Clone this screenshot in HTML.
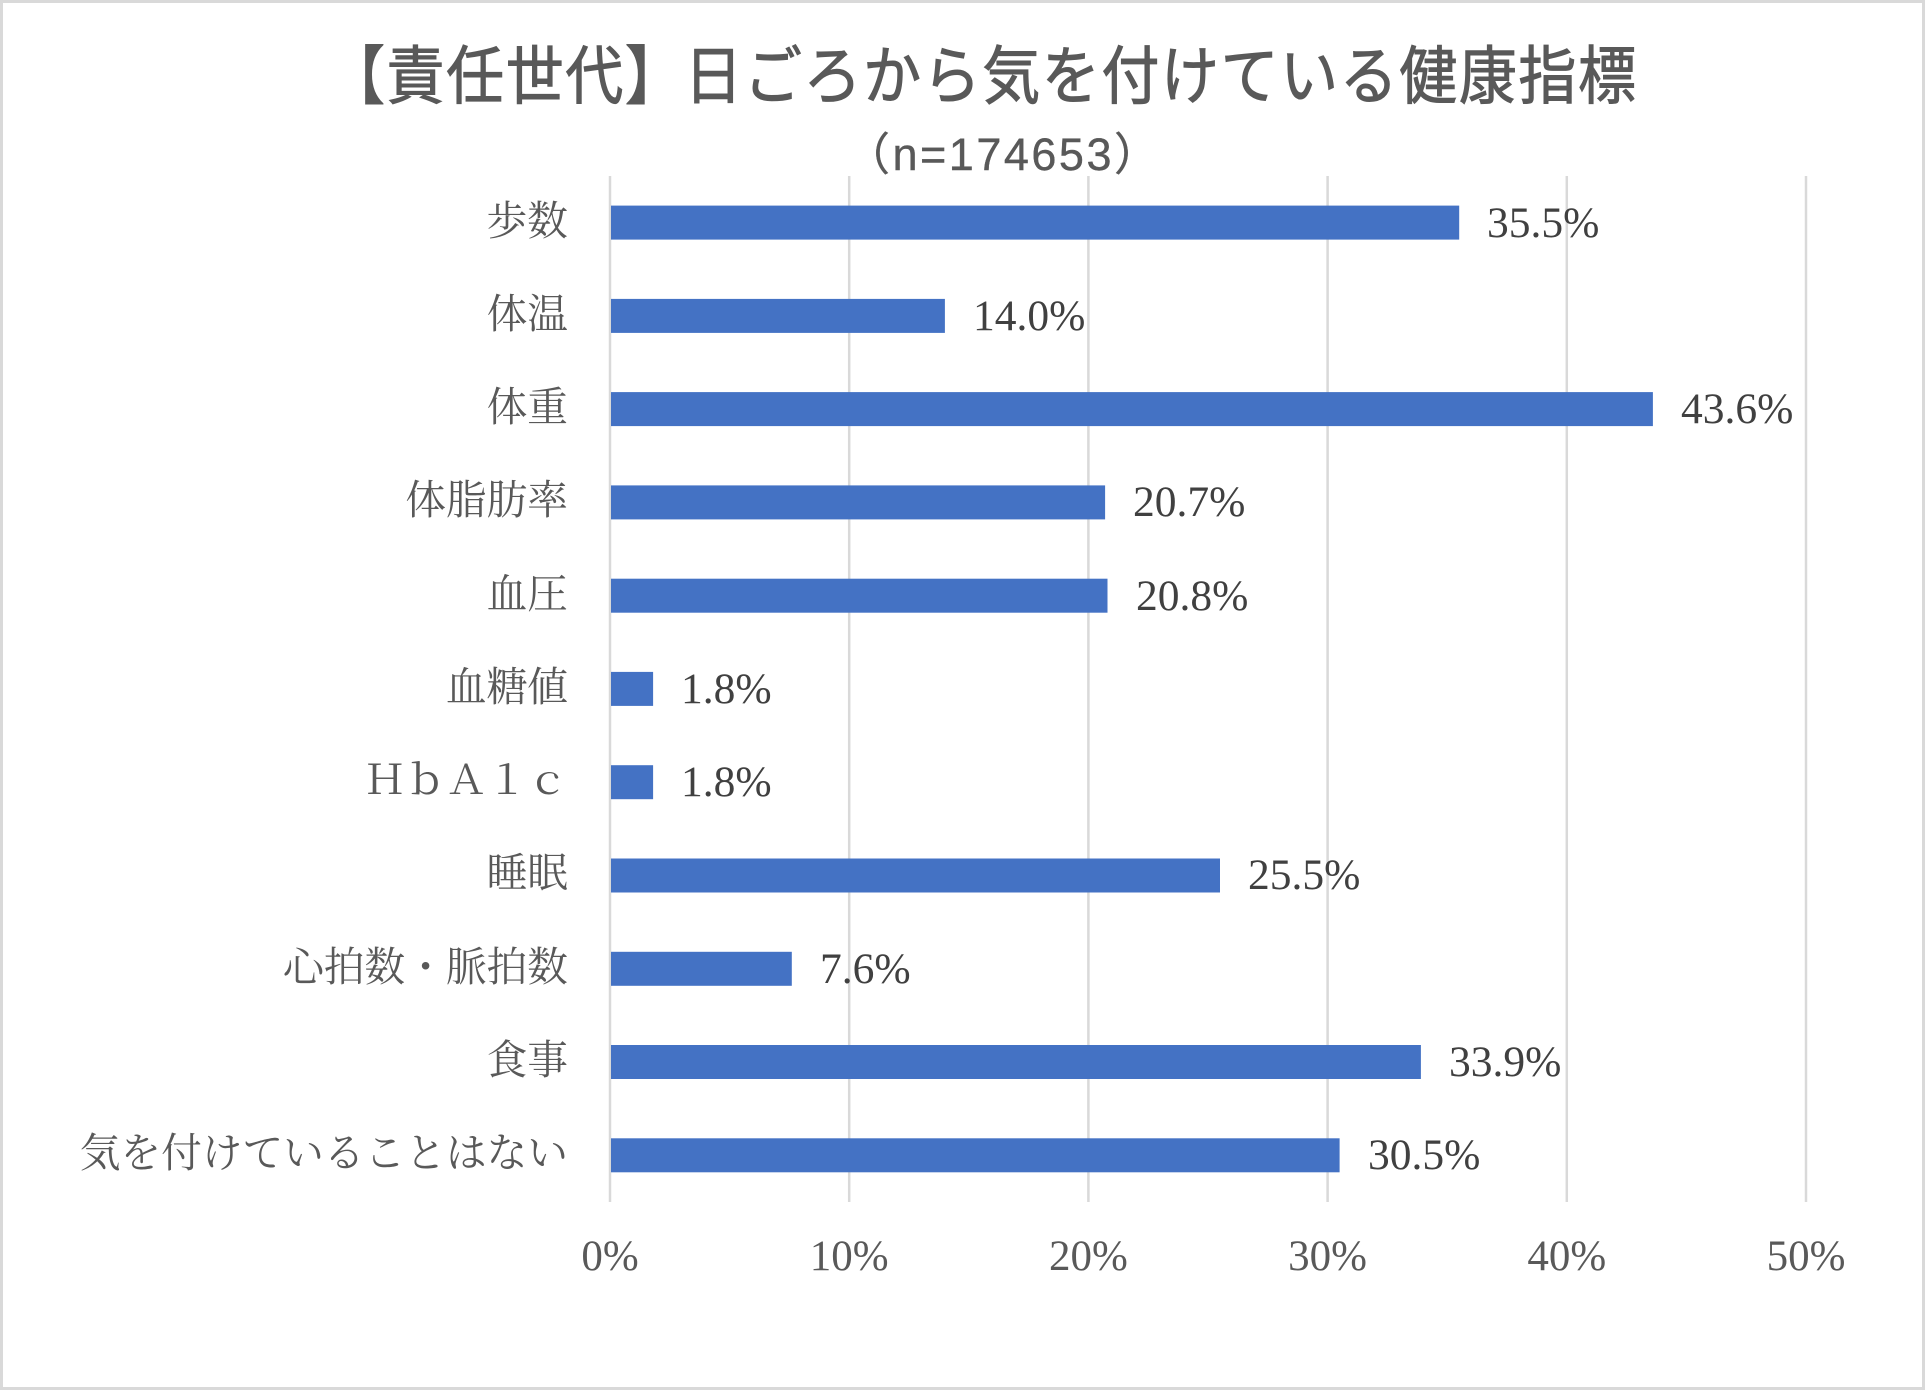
<!DOCTYPE html>
<html lang="ja">
<head>
<meta charset="utf-8">
<style>
  html, body { margin: 0; padding: 0; background: #ffffff; }
  body { width: 1925px; height: 1390px; overflow: hidden; }
  svg { display: block; }
  .cat { font-family: "Liberation Serif", "Noto Serif CJK SC", serif; font-size: 40.7px; fill: #595959; }
  .val { font-family: "Liberation Serif", "Noto Serif CJK SC", serif; font-size: 43.5px; fill: #404040; }
  .tick { font-family: "Liberation Serif", "Noto Serif CJK SC", serif; font-size: 43px; fill: #595959; }
  .title { font-family: "Liberation Sans", "Noto Sans CJK JP", sans-serif; font-size: 58px; fill: #595959; stroke: #595959; stroke-width: 0.9px; }
  .sub { font-family: "Liberation Sans", "Noto Sans CJK JP", sans-serif; font-size: 45px; fill: #595959; stroke: #595959; stroke-width: 0.4px; }
</style>
</head>
<body>
<svg width="1925" height="1390" viewBox="0 0 1925 1390" xmlns="http://www.w3.org/2000/svg">
  <rect x="1.5" y="1.5" width="1922" height="1387" fill="#ffffff" stroke="#d9d9d9" stroke-width="3"/>

  <!-- Title -->
  <g transform="translate(327,98.5) scale(1,1.1)">
    <text class="title" x="0" y="0" textLength="1309" lengthAdjust="spacing">【責任世代】日ごろから気を付けている健康指標</text>
  </g>
  <text class="sub" x="845" y="170" letter-spacing="2.5">（n=174653）</text>

  <!-- Gridlines -->
  <g stroke="#d9d9d9" stroke-width="2.5">
    <line x1="610" y1="176" x2="610" y2="1202"/>
    <line x1="849.2" y1="176" x2="849.2" y2="1202"/>
    <line x1="1088.4" y1="176" x2="1088.4" y2="1202"/>
    <line x1="1327.6" y1="176" x2="1327.6" y2="1202"/>
    <line x1="1566.8" y1="176" x2="1566.8" y2="1202"/>
    <line x1="1806" y1="176" x2="1806" y2="1202"/>
  </g>

  <!-- Bars -->
  <g fill="#4472c4">
    <rect x="611" y="205.6" width="848.2" height="34"/>
    <rect x="611" y="298.9" width="333.9" height="34"/>
    <rect x="611" y="392.1" width="1041.9" height="34"/>
    <rect x="611" y="485.4" width="494.1" height="34"/>
    <rect x="611" y="578.7" width="496.5" height="34"/>
    <rect x="611" y="671.9" width="42.1" height="34"/>
    <rect x="611" y="765.2" width="42.1" height="34"/>
    <rect x="611" y="858.5" width="609" height="34"/>
    <rect x="611" y="951.8" width="180.8" height="34"/>
    <rect x="611" y="1045.0" width="809.9" height="34"/>
    <rect x="611" y="1138.3" width="728.6" height="34"/>
  </g>

  <!-- Category labels -->
  <g text-anchor="end">
    <text class="cat" x="568" y="235">歩数</text>
    <text class="cat" x="568" y="328">体温</text>
    <text class="cat" x="568" y="421">体重</text>
    <text class="cat" x="568" y="514">体脂肪率</text>
    <text class="cat" x="568" y="608">血圧</text>
    <text class="cat" x="568" y="701">血糖値</text>
    <text class="cat" x="568" y="794">ＨｂＡ１ｃ</text>
    <text class="cat" x="568" y="887">睡眠</text>
    <text class="cat" x="568" y="981">心拍数・脈拍数</text>
    <text class="cat" x="568" y="1074">食事</text>
    <text class="cat" x="568" y="1167">気を付けていることはない</text>
  </g>

  <!-- Value labels -->
  <g>
    <text class="val" x="1487" y="237">35.5%</text>
    <text class="val" x="973" y="330">14.0%</text>
    <text class="val" x="1681" y="423">43.6%</text>
    <text class="val" x="1133" y="516">20.7%</text>
    <text class="val" x="1136" y="610">20.8%</text>
    <text class="val" x="681" y="703">1.8%</text>
    <text class="val" x="681" y="796">1.8%</text>
    <text class="val" x="1248" y="889">25.5%</text>
    <text class="val" x="820" y="983">7.6%</text>
    <text class="val" x="1449" y="1076">33.9%</text>
    <text class="val" x="1368" y="1169">30.5%</text>
  </g>

  <!-- Tick labels -->
  <g text-anchor="middle">
    <text class="tick" x="610" y="1270">0%</text>
    <text class="tick" x="849.2" y="1270">10%</text>
    <text class="tick" x="1088.4" y="1270">20%</text>
    <text class="tick" x="1327.6" y="1270">30%</text>
    <text class="tick" x="1566.8" y="1270">40%</text>
    <text class="tick" x="1806" y="1270">50%</text>
  </g>
</svg>
</body>
</html>
